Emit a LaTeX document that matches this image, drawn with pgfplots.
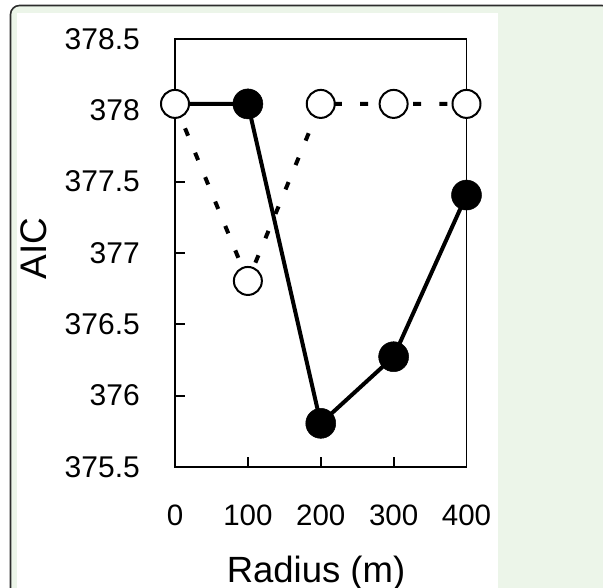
\documentclass[border=0pt]{standalone}
\usepackage{fontspec}
\setmainfont{Liberation Sans}
\usepackage{pgfplots}
\pgfplotsset{compat=1.18}
\definecolor{panelgreen}{RGB}{236,245,233}
\definecolor{framegray}{RGB}{45,45,45}
\begin{document}
\begin{tikzpicture}[x=1pt,y=1pt]
\useasboundingbox (0,0) rectangle (603,588);
\draw[framegray, line width=1.6pt, fill=panelgreen, rounded corners=9pt] (10.5,-40) rectangle (611,582.5);
\fill[white] (16.5,-40) rectangle (498,575);
\begin{axis}[
  at={(175pt,121pt)}, anchor=south west,
  scale only axis, width=291.5pt, height=428pt,
  xmin=0, xmax=400, ymin=375.5, ymax=378.5,
  clip=false,
  axis line style={line width=1.8pt, black},
  tick style={line width=1.8pt, black},
  major tick length=10pt,
  tick align=inside,
  xtick pos=left, ytick pos=left,
  xtick={0,100,200,300,400},
  ytick={375.5,376,376.5,377,377.5,378,378.5},
  yticklabels={375.5,376,376.5,377,377.5,378,378.5},
  xticklabels={0,100,200,300,400},
  xticklabel style={anchor=north, inner sep=0pt, yshift=-38pt, font=\fontsize{29.5}{29.5}\selectfont},
  yticklabel style={anchor=east, inner sep=0pt, xshift=-35pt, font=\fontsize{30}{30}\selectfont},
  xlabel={Radius (m)},
  ylabel={AIC},
  xlabel style={at={(axis description cs:0.4837,-0.2068)}, anchor=north, inner sep=0pt, font=\fontsize{36.5}{36.5}\selectfont},
  ylabel style={at={(axis description cs:-0.4854,0.5105)}, anchor=center, inner sep=0pt, font=\fontsize{37}{37}\selectfont},
]
\addplot[black, line width=4pt, dash pattern=on 8pt off 18.4pt, mark=none]
  coordinates {(0,378.045)(100,376.804)(200,378.045)(300,378.045)(400,378.045)};
\addplot[black, line width=4pt, mark=none]
  coordinates {(0,378.045)(100,378.045)(200,375.806)(300,376.273)(400,377.406)};
\addplot[only marks, mark=*, mark size=15pt, mark options={fill=black, draw=black, line width=0.5pt, solid}]
  coordinates {(100,378.045)(200,375.806)(300,376.273)(400,377.406)};
\addplot[only marks, mark=*, mark size=14pt, mark options={fill=white, draw=black, line width=2pt, solid}]
  coordinates {(0,378.045)(100,376.804)(200,378.045)(300,378.045)(400,378.045)};
\end{axis}
\end{tikzpicture}
\end{document}
